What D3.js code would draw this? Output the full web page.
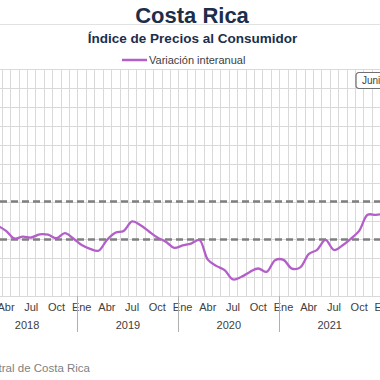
<!DOCTYPE html>
<html lang="es">
<head>
<meta charset="UTF-8">
<title>Costa Rica IPC</title>
<script src="https://cdn.jsdelivr.net/npm/d3@7"></script>
<style>
  body { margin: 0; background: #fff; overflow: hidden; }
  svg { display: block; font-family: "Liberation Sans", Arial, sans-serif; }
</style>
</head>
<body>
<div id="chart"></div>
<script>
// months Jan 2018 .. Jun 2022
var monthNames = ["Ene", "Feb", "Mar", "Abr", "May", "Jun", "Jul", "Ago", "Sep", "Oct", "Nov", "Dic"];
var years = [2018, 2019, 2020, 2021, 2022];
var tickMonths = ["Ene", "Abr", "Jul", "Oct"];

// variacion interanual (%), Jan 2018 .. Jan 2022
var values2018 = [2.95, 2.85, 2.72, 2.45, 2.05, 2.15, 2.10, 2.27, 2.25, 2.06, 2.33, 2.05];
var values2019 = [1.70, 1.50, 1.40, 1.97, 2.35, 2.45, 2.95, 2.75, 2.42, 2.10, 1.88, 1.55];
var values2020 = [1.68, 1.78, 1.97, 0.93, 0.60, 0.37, -0.12, 0.02, 0.28, 0.46, 0.28, 0.90];
var values2021 = [0.92, 0.45, 0.52, 1.22, 1.45, 1.97, 1.44, 1.68, 2.03, 2.45, 3.30, 3.30];
var values2022 = [3.35];

var bandLines = [2, 4];
var yTicks = d3.range(-1, 12, 1);

var width = 380, height = 380;

var months = [];
years.forEach(function(y) {
  monthNames.forEach(function(m, i) {
    if (y < 2022 || i < 6) months.push({ key: y + "-" + i, year: y, m: m });
  });
});
var values = values2018.concat(values2019, values2020, values2021, values2022);
var data = values.map(function(v, i) { return { key: months[i].key, v: v }; });

var svg = d3.select("#chart").append("svg")
  .attr("width", width).attr("height", height);

// title
svg.append("line")
  .attr("x1", 0).attr("x2", width).attr("y1", 24.5).attr("y2", 24.5)
  .attr("stroke", "#e2e2e2").attr("stroke-width", 1);
svg.append("text")
  .attr("x", 192).attr("y", 22.5).attr("text-anchor", "middle")
  .style("font-size", "22px").style("font-weight", "bold").attr("fill", "#1c2e4a")
  .text("Costa Rica");
svg.append("text")
  .attr("x", 192.5).attr("y", 42.5).attr("text-anchor", "middle")
  .style("font-size", "13.5px").style("font-weight", "bold").attr("fill", "#1c2e4a")
  .text("Índice de Precios al Consumidor");

// legend
svg.append("line")
  .attr("x1", 122).attr("x2", 147).attr("y1", 60).attr("y2", 60)
  .attr("stroke", "#b45fc9").attr("stroke-width", 2.5);
svg.append("text")
  .attr("x", 149).attr("y", 63.5)
  .style("font-size", "11px").attr("fill", "#404040")
  .text("Variación interanual");

var xScale = d3.scaleBand()
  .domain(months.map(function(d) { return d.key; }))
  .range([-23.4, -23.4 + months.length * 8.408])
  .paddingInner(0).paddingOuter(0);

var yScale = d3.scaleLinear()
  .domain([-1, 11])
  .range([296.1, 69.3]);

var plotTop = yScale(11), plotBottom = yScale(-1);

// gridlines
svg.append("g").selectAll("line.h")
  .data(yTicks).join("line")
  .attr("x1", 0).attr("x2", width)
  .attr("y1", function(d) { return Math.round(yScale(d)) + 0.5; })
  .attr("y2", function(d) { return Math.round(yScale(d)) + 0.5; })
  .attr("stroke", "#d9d9d9").attr("stroke-width", 1);

svg.append("g").selectAll("line.v")
  .data(months).join("line")
  .attr("x1", function(d) { return Math.round(xScale(d.key)) + 0.5; })
  .attr("x2", function(d) { return Math.round(xScale(d.key)) + 0.5; })
  .attr("y1", plotTop).attr("y2", plotBottom)
  .attr("stroke", "#d9d9d9").attr("stroke-width", 1);

// target band 2% - 4%
svg.append("g").selectAll("line.band")
  .data(bandLines).join("line")
  .attr("x1", 0).attr("x2", width)
  .attr("y1", function(d) { return yScale(d); })
  .attr("y2", function(d) { return yScale(d); })
  .attr("stroke", "#7f7f7f").attr("stroke-width", 2.5)
  .attr("stroke-dasharray", "7,4");

// series
var line = d3.line()
  .x(function(d) { return xScale(d.key) + xScale.bandwidth() / 2; })
  .y(function(d) { return yScale(d.v); })
  .curve(d3.curveCatmullRom.alpha(0.5));

svg.append("path")
  .datum(data)
  .attr("d", line)
  .attr("fill", "none")
  .attr("stroke", "#b45fc9")
  .attr("stroke-width", 2.3)
  .attr("stroke-linejoin", "round");

// axis labels (months)
var tickData = months.filter(function(d) { return tickMonths.indexOf(d.m) >= 0; });
svg.append("g").selectAll("text")
  .data(tickData).join("text")
  .attr("x", function(d) { return xScale(d.key) + xScale.bandwidth() / 2; })
  .attr("y", 311)
  .attr("text-anchor", "middle")
  .style("font-size", "11px").attr("fill", "#404040")
  .text(function(d) { return d.m; });

// year separators and labels
svg.append("g").selectAll("line")
  .data(years).join("line")
  .attr("x1", function(d) { return Math.round(xScale(d + "-0")) + 0.5; })
  .attr("x2", function(d) { return Math.round(xScale(d + "-0")) + 0.5; })
  .attr("y1", plotBottom).attr("y2", 332)
  .attr("stroke", "#b0b0b0").attr("stroke-width", 1);

svg.append("g").selectAll("text")
  .data(years.slice(0, 4)).join("text")
  .attr("x", function(d) { return xScale(d + "-0") + 6 * xScale.step(); })
  .attr("y", 328.5)
  .attr("text-anchor", "middle")
  .style("font-size", "11px").attr("fill", "#404040")
  .text(function(d) { return d; });

// annotation box (cut at the right edge)
var note = svg.append("g").attr("transform", "translate(356,72.5)");
note.append("rect")
  .attr("width", 90).attr("height", 16).attr("rx", 3)
  .attr("fill", "#fff").attr("stroke", "#6f6f6f").attr("stroke-width", 1.2);
note.append("text")
  .attr("x", 6).attr("y", 11.5)
  .style("font-size", "10px").attr("fill", "#404040")
  .text("Junio 2022");

// source
svg.append("text")
  .attr("x", 90).attr("y", 372).attr("text-anchor", "end")
  .style("font-size", "11.5px").attr("fill", "#7f7f7f")
  .text("Fuente: Banco Central de Costa Rica");
</script>
</body>
</html>
